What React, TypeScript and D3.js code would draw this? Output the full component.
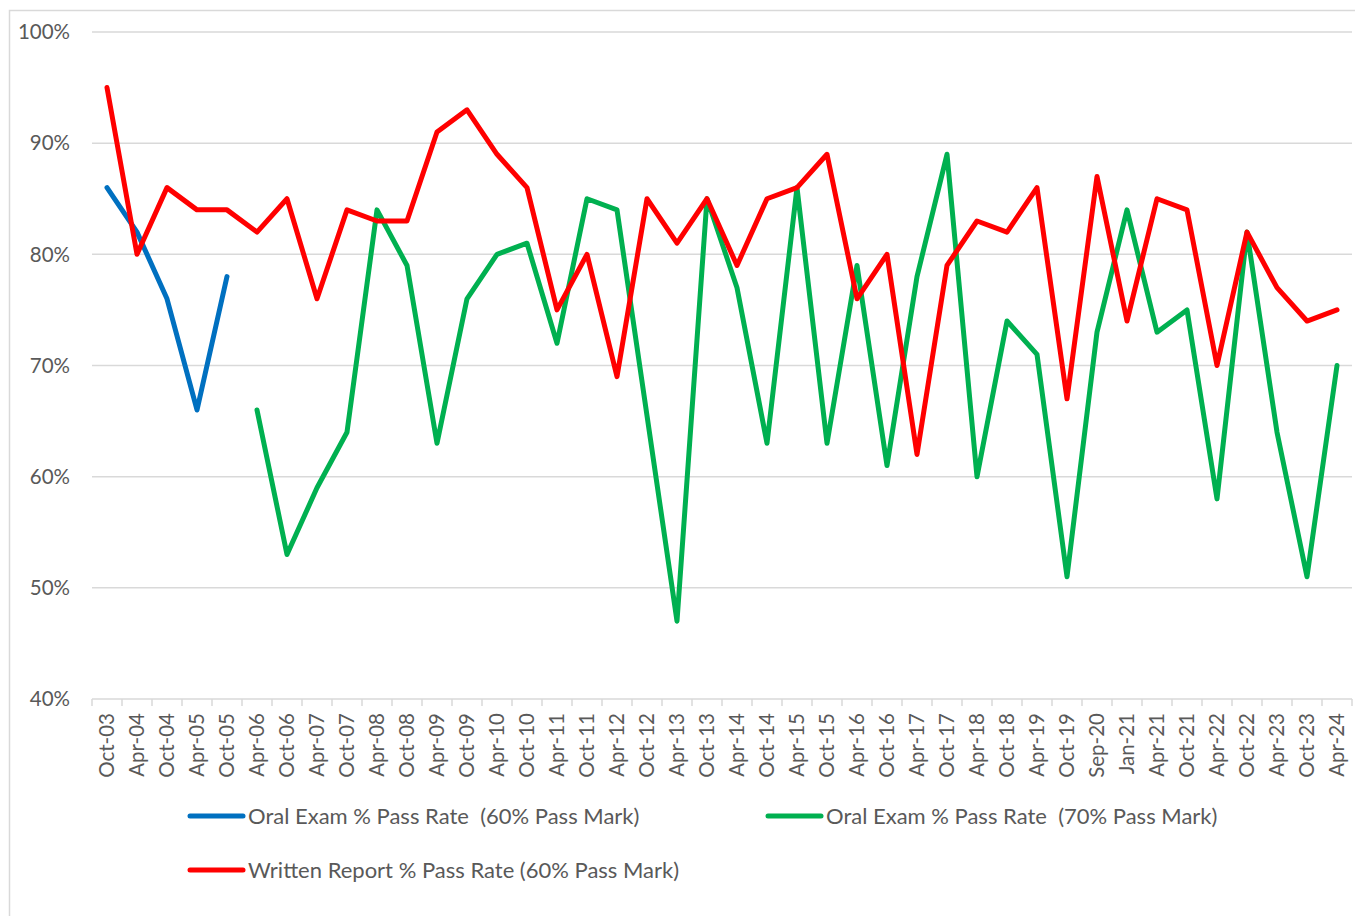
import * as d3 from "d3";

const WIDTH = 1355;
const HEIGHT = 916;
const PLOT = { left: 92, right: 1352, top: 32, bottom: 699 };

const categories = [
  "Oct-03", "Apr-04", "Oct-04", "Apr-05", "Oct-05", "Apr-06", "Oct-06", "Apr-07",
  "Oct-07", "Apr-08", "Oct-08", "Apr-09", "Oct-09", "Apr-10", "Oct-10", "Apr-11",
  "Oct-11", "Apr-12", "Oct-12", "Apr-13", "Oct-13", "Apr-14", "Oct-14", "Apr-15",
  "Oct-15", "Apr-16", "Oct-16", "Apr-17", "Oct-17", "Apr-18", "Oct-18", "Apr-19",
  "Oct-19", "Sep-20", "Jan-21", "Apr-21", "Oct-21", "Apr-22", "Oct-22", "Apr-23",
  "Oct-23", "Apr-24",
];

// null = no exam under that pass mark
const oral60: (number | null)[] = [
  86, 82, 76, 66, 78, null, null, null, null, null, null, null, null, null, null, null,
  null, null, null, null, null, null, null, null, null, null, null, null, null, null,
  null, null, null, null, null, null, null, null, null, null, null, null,
];

const oral70: (number | null)[] = [
  null, null, null, null, null, 66, 53, 59, 64, 84, 79, 63, 76, 80, 81, 72,
  85, 84, 65.5, 47, 85, 77, 63, 86, 63, 79, 61, 78, 89, 60, 74, 71,
  51, 73, 84, 73, 75, 58, 82, 64, 51, 70,
];

const written60: (number | null)[] = [
  95, 80, 86, 84, 84, 82, 85, 76, 84, 83, 83, 91, 93, 89, 86, 75,
  80, 69, 85, 81, 85, 79, 85, 86, 89, 76, 80, 62, 79, 83, 82, 86,
  67, 87, 74, 85, 84, 70, 82, 77, 74, 75,
];

const yTicks = [40, 50, 60, 70, 80, 90, 100];

const series = [
  { name: "Oral Exam % Pass Rate  (60% Pass Mark)", values: oral60, color: "#0070C0" },
  { name: "Oral Exam % Pass Rate  (70% Pass Mark)", values: oral70, color: "#00B050" },
  { name: "Written Report % Pass Rate (60% Pass Mark)", values: written60, color: "#FF0000" },
];

const FONT = "Lato, 'Open Sans', sans-serif";
const TEXT = "#595959";
const GRID = "#d9d9d9";

export default function App() {
  const x = d3.scaleBand().domain(categories).range([PLOT.left, PLOT.right]);
  const y = d3.scaleLinear().domain([40, 100]).range([PLOT.bottom, PLOT.top]);

  const line = d3
    .line<number | null>()
    .defined((d) => d != null)
    .x((_, i) => (x(categories[i]) as number) + x.bandwidth() / 2)
    .y((d) => y(d as number));

  const legend = [
    { ...series[0], lx: 190, ly: 816 },
    { ...series[1], lx: 768, ly: 816 },
    { ...series[2], lx: 190, ly: 870 },
  ];

  return (
    <div style={{ position: "fixed", left: 0, top: 0 }}>
      <svg width={WIDTH} height={HEIGHT} style={{ display: "block", background: "#fff" }} fontFamily={FONT}>
        {/* chart border */}
        <rect x={9.5} y={10.5} width={WIDTH + 10} height={HEIGHT + 10} fill="none" stroke={GRID} strokeWidth={1.5} />

        {/* grid */}
        {yTicks.map((t) => (
          <g key={t}>
            <line x1={PLOT.left} x2={PLOT.right} y1={y(t)} y2={y(t)} stroke={GRID} strokeWidth={1.5} />
            <text x={70} y={y(t)} dy="0.35em" textAnchor="end" fontSize={20.5} fill={TEXT}>
              {t}%
            </text>
          </g>
        ))}

        {/* x ticks */}
        {categories.concat(["__end"]).map((c, i) => {
          const xx = PLOT.left + i * x.bandwidth();
          return <line key={c} x1={xx} x2={xx} y1={PLOT.bottom} y2={PLOT.bottom + 7} stroke={GRID} strokeWidth={1.5} />;
        })}
        {categories.map((c) => (
          <text
            key={c}
            transform={`translate(${(x(c) as number) + x.bandwidth() / 2},${PLOT.bottom + 14}) rotate(-90)`}
            dy="0.35em"
            textAnchor="end"
            fontSize={20.5}
            fill={TEXT}
          >
            {c}
          </text>
        ))}

        {/* lines */}
        {series.map((s) => (
          <path
            key={s.name}
            d={line(s.values) ?? ""}
            fill="none"
            stroke={s.color}
            strokeWidth={5}
            strokeLinejoin="round"
            strokeLinecap="round"
          />
        ))}

        {/* legend */}
        {legend.map((l) => (
          <g key={l.name}>
            <line x1={l.lx} x2={l.lx + 53} y1={l.ly} y2={l.ly} stroke={l.color} strokeWidth={5} strokeLinecap="round" />
            <text x={l.lx + 58} y={l.ly} dy="0.35em" fontSize={22} fill={TEXT} style={{ whiteSpace: "pre" }}>
              {l.name}
            </text>
          </g>
        ))}
      </svg>
    </div>
  );
}
